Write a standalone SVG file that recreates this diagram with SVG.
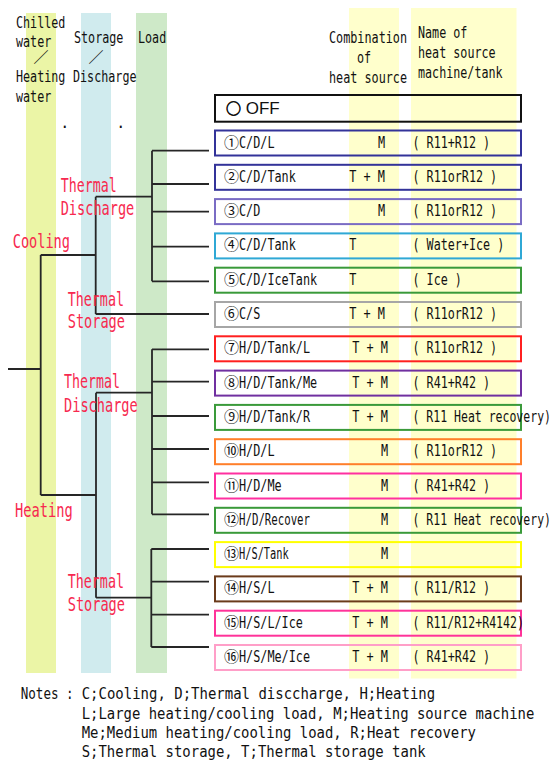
<svg xmlns="http://www.w3.org/2000/svg" width="552" height="774" viewBox="0 0 552 774">
<style>
.bg{fill:#ffffff}
.m{font-family:"DejaVu Sans Mono","Noto Sans CJK JP",monospace;font-size:15px;fill:#111111}
.cj{font-family:"Noto Sans CJK JP","DejaVu Sans",sans-serif}
.r{font-family:"DejaVu Sans Mono","Noto Sans CJK JP",monospace;font-size:19px;fill:#f7294f}
.off{font-family:"Liberation Sans","DejaVu Sans",sans-serif;font-size:17px;fill:#111111}
.box{fill:none;stroke-width:2}
.conn{fill:none;stroke:#262626;stroke-width:1.8}
</style>
<rect class="bg" x="0" y="0" width="552" height="774"/>
<g id="bands">
<rect x="26" y="13" width="30" height="660" fill="#ebf5a6"/>
<rect x="81" y="13" width="30" height="660" fill="#d0ebee"/>
<rect x="136" y="13" width="31" height="660" fill="#cee9c8"/>
<rect x="349" y="8" width="50" height="670.5" fill="#ffffcc"/>
<rect x="411" y="8" width="105.5" height="670.5" fill="#ffffcc"/>
</g>
<g id="header">
<text class="m" x="16" y="28.3" textLength="49.4" lengthAdjust="spacingAndGlyphs">Chilled</text>
<text class="m" x="16" y="47.3" textLength="35.3" lengthAdjust="spacingAndGlyphs">water</text>
<text class="m cj" x="33.5" y="63">／</text>
<text class="m" x="16" y="82" textLength="49.4" lengthAdjust="spacingAndGlyphs">Heating</text>
<text class="m" x="16" y="101.5" textLength="35.3" lengthAdjust="spacingAndGlyphs">water</text>
<text class="m" x="74" y="42.5" textLength="49.4" lengthAdjust="spacingAndGlyphs">Storage</text>
<text class="m cj" x="88.5" y="63">／</text>
<text class="m" x="73" y="82" textLength="63.5" lengthAdjust="spacingAndGlyphs">Discharge</text>
<text class="m" x="138" y="42.7" textLength="28.2" lengthAdjust="spacingAndGlyphs">Load</text>
<text class="m" x="60.2" y="128">.</text>
<text class="m" x="116.2" y="128">.</text>
<text class="m" x="329" y="43.3" textLength="78" lengthAdjust="spacingAndGlyphs">Combination</text>
<text class="m" x="357" y="63.3" textLength="14.1" lengthAdjust="spacingAndGlyphs">of</text>
<text class="m" x="329" y="83" textLength="78" lengthAdjust="spacingAndGlyphs">heat source</text>
<text class="m" x="418" y="37.7" textLength="49.4" lengthAdjust="spacingAndGlyphs">Name of</text>
<text class="m" x="418" y="58" textLength="77.6" lengthAdjust="spacingAndGlyphs">heat source</text>
<text class="m" x="418" y="77.5" textLength="84.6" lengthAdjust="spacingAndGlyphs">machine/tank</text>
</g>
<g id="connectors">
<path class="conn" d="M8 369H40.7M40.7 255V495"/>
<path class="conn" d="M40.7 255H95.7M95.7 196.7V314M95.7 196.7H152M95.7 314H209"/>
<path class="conn" d="M152 150.7V281.3M152 150.7H209M152 184H209M152 211.7H209M152 246.7H209M152 281.3H209"/>
<path class="conn" d="M40.7 495H96M96 392.7V597.7M96 392.7H152M96 597.7H151.3"/>
<path class="conn" d="M152 349.3V514.3M152 349.3H209M152 381.7H209M152 416H209M152 449H209M152 482.3H209M152 514.3H209"/>
<path class="conn" d="M151.3 549V647M151.3 549H209M151.3 581.7H209M151.3 614.7H209M151.3 647H209"/>
</g>
<g id="branch-labels">
<text class="r" x="60.7" y="191.7" textLength="56" lengthAdjust="spacingAndGlyphs">Thermal</text>
<text class="r" x="60.7" y="214.5" textLength="73.6" lengthAdjust="spacingAndGlyphs">Discharge</text>
<text class="r" x="12.7" y="248" textLength="57.3" lengthAdjust="spacingAndGlyphs">Cooling</text>
<text class="r" x="67.7" y="306" textLength="56.3" lengthAdjust="spacingAndGlyphs">Thermal</text>
<text class="r" x="67.7" y="328" textLength="57.3" lengthAdjust="spacingAndGlyphs">Storage</text>
<text class="r" x="64" y="388.3" textLength="56" lengthAdjust="spacingAndGlyphs">Thermal</text>
<text class="r" x="64" y="411.5" textLength="73.7" lengthAdjust="spacingAndGlyphs">Discharge</text>
<text class="r" x="15" y="516.5" textLength="57.7" lengthAdjust="spacingAndGlyphs">Heating</text>
<text class="r" x="67.7" y="588" textLength="56.3" lengthAdjust="spacingAndGlyphs">Thermal</text>
<text class="r" x="67.7" y="610.5" textLength="57.3" lengthAdjust="spacingAndGlyphs">Storage</text>
</g>
<g id="off">
<rect class="box" x="215" y="95" width="306" height="26.7" stroke="#111111"/>
<text class="off" x="226" y="114"><tspan class="cj" font-size="15" stroke="#111111" stroke-width="0.7">○</tspan><tspan x="245.7" y="114.3">OFF</tspan></text>
</g>
<g id="row1">
<rect class="box" x="215" y="130.5" width="306" height="25" stroke="#333399"/>
<text class="m" x="224" y="147.5"><tspan class="cj">①</tspan><tspan textLength="35.5" lengthAdjust="spacingAndGlyphs">C/D/L</tspan></text>
<text class="m" x="378" y="147.5" textLength="7.1" lengthAdjust="spacingAndGlyphs">M</text>
<text class="m" x="412.5" y="147.5" textLength="77.6" lengthAdjust="spacingAndGlyphs">( R11+R12 )</text>
</g>
<g id="row2">
<rect class="box" x="215" y="164.8" width="306" height="25" stroke="#333399"/>
<text class="m" x="224" y="181.8"><tspan class="cj">②</tspan><tspan textLength="56.8" lengthAdjust="spacingAndGlyphs">C/D/Tank</tspan></text>
<text class="m" x="349.3" y="181.8" textLength="35.7" lengthAdjust="spacingAndGlyphs">T + M</text>
<text class="m" x="412.5" y="181.8" textLength="84.6" lengthAdjust="spacingAndGlyphs">( R11orR12 )</text>
</g>
<g id="row3">
<rect class="box" x="215" y="199.1" width="306" height="25" stroke="#7a6cc4"/>
<text class="m" x="224" y="216.1"><tspan class="cj">③</tspan><tspan textLength="21.3" lengthAdjust="spacingAndGlyphs">C/D</tspan></text>
<text class="m" x="378" y="216.1" textLength="7.1" lengthAdjust="spacingAndGlyphs">M</text>
<text class="m" x="412.5" y="216.1" textLength="84.6" lengthAdjust="spacingAndGlyphs">( R11orR12 )</text>
</g>
<g id="row4">
<rect class="box" x="215" y="233.4" width="306" height="25" stroke="#2fa8d5"/>
<text class="m" x="224" y="250.4"><tspan class="cj">④</tspan><tspan textLength="56.8" lengthAdjust="spacingAndGlyphs">C/D/Tank</tspan></text>
<text class="m" x="349.3" y="250.4" textLength="7.1" lengthAdjust="spacingAndGlyphs">T</text>
<text class="m" x="412.5" y="250.4" textLength="91.7" lengthAdjust="spacingAndGlyphs">( Water+Ice )</text>
</g>
<g id="row5">
<rect class="box" x="215" y="267.7" width="306" height="25" stroke="#3a9a3a"/>
<text class="m" x="224" y="284.7"><tspan class="cj">⑤</tspan><tspan textLength="78.1" lengthAdjust="spacingAndGlyphs">C/D/IceTank</tspan></text>
<text class="m" x="349.3" y="284.7" textLength="7.1" lengthAdjust="spacingAndGlyphs">T</text>
<text class="m" x="412.5" y="284.7" textLength="49.4" lengthAdjust="spacingAndGlyphs">( Ice )</text>
</g>
<g id="row6">
<rect class="box" x="215" y="302" width="306" height="25" stroke="#a6a6a6"/>
<text class="m" x="224" y="319"><tspan class="cj">⑥</tspan><tspan textLength="21.3" lengthAdjust="spacingAndGlyphs">C/S</tspan></text>
<text class="m" x="349.3" y="319" textLength="35.7" lengthAdjust="spacingAndGlyphs">T + M</text>
<text class="m" x="412.5" y="319" textLength="84.6" lengthAdjust="spacingAndGlyphs">( R11orR12 )</text>
</g>
<g id="row7">
<rect class="box" x="215" y="336.3" width="306" height="25" stroke="#ff2020"/>
<text class="m" x="224" y="353.3"><tspan class="cj">⑦</tspan><tspan textLength="71" lengthAdjust="spacingAndGlyphs">H/D/Tank/L</tspan></text>
<text class="m" x="352.3" y="353.3" textLength="35.7" lengthAdjust="spacingAndGlyphs">T + M</text>
<text class="m" x="412.5" y="353.3" textLength="84.6" lengthAdjust="spacingAndGlyphs">( R11orR12 )</text>
</g>
<g id="row8">
<rect class="box" x="215" y="370.6" width="306" height="25" stroke="#7030a0"/>
<text class="m" x="224" y="387.6"><tspan class="cj">⑧</tspan><tspan textLength="78.1" lengthAdjust="spacingAndGlyphs">H/D/Tank/Me</tspan></text>
<text class="m" x="352.3" y="387.6" textLength="35.7" lengthAdjust="spacingAndGlyphs">T + M</text>
<text class="m" x="412.5" y="387.6" textLength="77.6" lengthAdjust="spacingAndGlyphs">( R41+R42 )</text>
</g>
<g id="row9">
<rect class="box" x="215" y="404.9" width="306" height="25" stroke="#3a9a3a"/>
<text class="m" x="224" y="421.9"><tspan class="cj">⑨</tspan><tspan textLength="71" lengthAdjust="spacingAndGlyphs">H/D/Tank/R</tspan></text>
<text class="m" x="352.3" y="421.9" textLength="35.7" lengthAdjust="spacingAndGlyphs">T + M</text>
<text class="m" x="412.5" y="421.9" textLength="138.5" lengthAdjust="spacingAndGlyphs">( R11 Heat recovery)</text>
</g>
<g id="row10">
<rect class="box" x="215" y="439.2" width="306" height="25" stroke="#ff7f2a"/>
<text class="m" x="224" y="456.2"><tspan class="cj">⑩</tspan><tspan textLength="35.5" lengthAdjust="spacingAndGlyphs">H/D/L</tspan></text>
<text class="m" x="381" y="456.2" textLength="7.1" lengthAdjust="spacingAndGlyphs">M</text>
<text class="m" x="412.5" y="456.2" textLength="84.6" lengthAdjust="spacingAndGlyphs">( R11orR12 )</text>
</g>
<g id="row11">
<rect class="box" x="215" y="473.5" width="306" height="25" stroke="#ff30a0"/>
<text class="m" x="224" y="490.5"><tspan class="cj">⑪</tspan><tspan textLength="42.6" lengthAdjust="spacingAndGlyphs">H/D/Me</tspan></text>
<text class="m" x="381" y="490.5" textLength="7.1" lengthAdjust="spacingAndGlyphs">M</text>
<text class="m" x="412.5" y="490.5" textLength="77.6" lengthAdjust="spacingAndGlyphs">( R41+R42 )</text>
</g>
<g id="row12">
<rect class="box" x="215" y="507.8" width="306" height="25" stroke="#3a9a3a"/>
<text class="m" x="224" y="524.8"><tspan class="cj">⑫</tspan><tspan textLength="71" lengthAdjust="spacingAndGlyphs">H/D/Recover</tspan></text>
<text class="m" x="381" y="524.8" textLength="7.1" lengthAdjust="spacingAndGlyphs">M</text>
<text class="m" x="412.5" y="524.8" textLength="138.5" lengthAdjust="spacingAndGlyphs">( R11 Heat recovery)</text>
</g>
<g id="row13">
<rect class="box" x="215" y="542.1" width="306" height="25" stroke="#ffff00"/>
<text class="m" x="224" y="559.1"><tspan class="cj">⑬</tspan><tspan textLength="49.7" lengthAdjust="spacingAndGlyphs">H/S/Tank</tspan></text>
<text class="m" x="381" y="559.1" textLength="7.1" lengthAdjust="spacingAndGlyphs">M</text>
</g>
<g id="row14">
<rect class="box" x="215" y="576.4" width="306" height="25" stroke="#6b3b1b"/>
<text class="m" x="224" y="593.4"><tspan class="cj">⑭</tspan><tspan textLength="35.5" lengthAdjust="spacingAndGlyphs">H/S/L</tspan></text>
<text class="m" x="352.3" y="593.4" textLength="35.7" lengthAdjust="spacingAndGlyphs">T + M</text>
<text class="m" x="412.5" y="593.4" textLength="77.6" lengthAdjust="spacingAndGlyphs">( R11/R12 )</text>
</g>
<g id="row15">
<rect class="box" x="215" y="610.7" width="306" height="25" stroke="#ff3399"/>
<text class="m" x="224" y="627.7"><tspan class="cj">⑮</tspan><tspan textLength="63.9" lengthAdjust="spacingAndGlyphs">H/S/L/Ice</tspan></text>
<text class="m" x="352.3" y="627.7" textLength="35.7" lengthAdjust="spacingAndGlyphs">T + M</text>
<text class="m" x="412.5" y="627.7" textLength="111.5" lengthAdjust="spacingAndGlyphs">( R11/R12+R4142)</text>
</g>
<g id="row16">
<rect class="box" x="215" y="645" width="306" height="25" stroke="#ff9fc8"/>
<text class="m" x="224" y="662"><tspan class="cj">⑯</tspan><tspan textLength="71" lengthAdjust="spacingAndGlyphs">H/S/Me/Ice</tspan></text>
<text class="m" x="352.3" y="662" textLength="35.7" lengthAdjust="spacingAndGlyphs">T + M</text>
<text class="m" x="412.5" y="662" textLength="77.6" lengthAdjust="spacingAndGlyphs">( R41+R42 )</text>
</g>
<g id="notes">
<text class="m" x="20.7" y="699"><tspan textLength="53" lengthAdjust="spacingAndGlyphs">Notes :</tspan><tspan x="81.7" textLength="353.5" lengthAdjust="spacingAndGlyphs">C;Cooling, D;Thermal disccharge, H;Heating</tspan></text>
<text class="m" x="81.7" y="718.5" textLength="452.6" lengthAdjust="spacingAndGlyphs">L;Large heating/cooling load, M;Heating source machine</text>
<text class="m" x="81.7" y="737.5" textLength="394.3" lengthAdjust="spacingAndGlyphs">Me;Medium heating/cooling load, R;Heat recovery</text>
<text class="m" x="81.7" y="756.5" textLength="344" lengthAdjust="spacingAndGlyphs">S;Thermal storage, T;Thermal storage tank</text>
</g>
</svg>
